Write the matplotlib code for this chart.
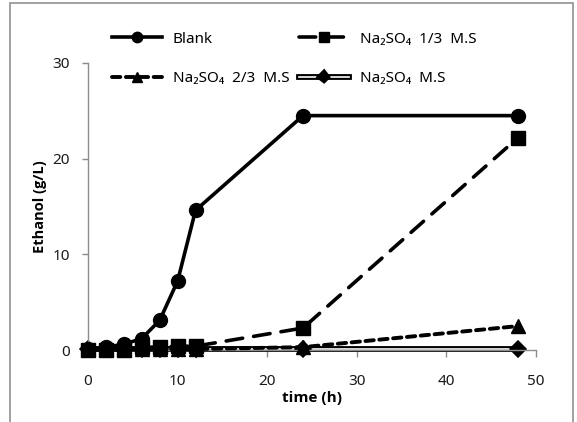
import matplotlib
matplotlib.use('Agg')
import matplotlib.pyplot as plt
import matplotlib.patheffects as pe
from matplotlib.patches import Rectangle

plt.rcParams['font.family'] = ['Noto Sans', 'DejaVu Sans']
plt.rcParams['lines.scale_dashes'] = False

# sampling times (h) and ethanol (g/L) for each medium
time_h = [0, 2, 4, 6, 8, 10, 12, 24, 48]
blank = [0.1, 0.3, 0.6, 1.2, 3.1, 7.2, 14.6, 24.5, 24.5]
na2so4_13 = [0.0, 0.0, 0.0, 0.3, 0.3, 0.4, 0.4, 2.3, 22.2]
na2so4_23 = [0.1, 0.1, 0.1, 0.1, 0.1, 0.1, 0.1, 0.3, 2.5]
na2so4_ms = [0.1, 0.1, 0.1, 0.1, 0.1, 0.1, 0.1, 0.1, 0.1]

labels = ['Blank', 'Na\u2082SO\u2084  1/3  M.S', 'Na\u2082SO\u2084  2/3  M.S', 'Na\u2082SO\u2084  M.S']

fig = plt.figure(figsize=(5.77, 4.22), dpi=100)
ax = fig.add_axes([88 / 577, 1 - 350 / 422, 448 / 577, 287 / 422])

# outer frame of the chart area
fig.patches.append(Rectangle((10 / 577, -0.05), 563 / 577, 1.05 - 3 / 422,
                             transform=fig.transFigure, fill=False,
                             edgecolor='#9a9a9a', linewidth=1.3))

# M.S drawn as a double line (black outline, white core)
l_ms, = ax.plot(time_h, na2so4_ms, color='white', lw=1.2, marker='D', ms=5,
                mfc='black', mec='black', clip_on=False, zorder=2,
                path_effects=[pe.Stroke(linewidth=4.2, foreground='black'), pe.Normal()])
l_blank, = ax.plot(time_h, blank, color='black', lw=2.6, marker='o', ms=10,
                   clip_on=False, zorder=5)
l_13, = ax.plot(time_h, na2so4_13, color='black', lw=2.6, marker='s', ms=10,
                dashes=(12, 8), dash_capstyle='round', clip_on=False, zorder=4)
l_23, = ax.plot(time_h, na2so4_23, color='black', lw=2.8, marker='^', ms=10.5,
                dashes=(6, 4), dash_capstyle='round', clip_on=False, zorder=3)

ax.set_xlim(0, 50)
ax.set_ylim(0, 30)
ax.set_xticks([0, 10, 20, 30, 40, 50])
ax.set_yticks([0, 10, 20, 30])

for side in ['top', 'right']:
    ax.spines[side].set_visible(False)
for side in ['left', 'bottom']:
    ax.spines[side].set_color('#8c8c8c')
    ax.spines[side].set_linewidth(1.0)
ax.tick_params(axis='x', direction='out', length=5, width=1, color='#8c8c8c',
               pad=12, labelsize=11, labelcolor='#1a1a1a')
ax.tick_params(axis='y', direction='out', length=4, width=1, color='#8c8c8c',
               pad=9, labelsize=11, labelcolor='#1a1a1a')

bold_font = ['Open Sans', 'DejaVu Sans']
ax.set_xlabel('time (h)', fontsize=11, fontweight='bold', family=bold_font, labelpad=2)
ax.set_ylabel('Ethanol (g/L)', fontsize=10.5, fontweight='bold', family=bold_font, labelpad=4)

# legend fills column by column, so order handles to read row by row
fig.legend([l_blank, l_23, l_13, l_ms], [labels[0], labels[2], labels[1], labels[3]],
           ncol=2, frameon=False,
           loc='upper left', bbox_to_anchor=(104 / 577, 1 - 24 / 422),
           fontsize=11, handlelength=3.3, handletextpad=0.7, columnspacing=0.6,
           labelspacing=1.6, borderpad=0, markerscale=0.75)

fig.savefig('out.png', dpi=100, facecolor='white')
